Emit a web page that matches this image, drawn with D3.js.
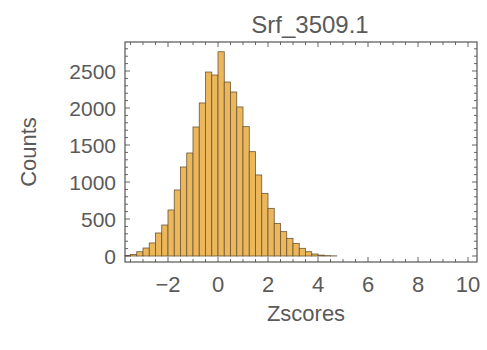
<!DOCTYPE html>
<html>
<head>
<meta charset="utf-8">
<script src="https://cdn.jsdelivr.net/npm/d3@7"></script>
<style>
  html, body { margin: 0; padding: 0; background: #fff; }
  svg { display: block; }
  text { font-family: "Liberation Sans", Arial, sans-serif; fill: #5a5a5a; }
</style>
</head>
<body>
<svg id="chart" width="487" height="350"></svg>
<script>
// ---- data ----
const title = "Srf_3509.1";
const xLabel = "Zscores";
const yLabel = "Counts";
const binWidth = 0.25;
const binStarts = [-3.75, -3.5, -3.25, -3.0, -2.75, -2.5, -2.25, -2.0, -1.75, -1.5, -1.25, -1.0, -0.75, -0.5,
  -0.25, 0.0, 0.25, 0.5, 0.75, 1.0, 1.25, 1.5, 1.75, 2.0, 2.25, 2.5, 2.75, 3.0, 3.25, 3.5, 3.75, 4.0, 4.25, 4.5];
const counts = [8, 22, 58, 108, 176, 311, 419, 622, 892, 1203, 1392, 1743, 2068, 2486,
  2446, 2760, 2351, 2216, 2014, 1748, 1410, 1095, 847, 644, 441, 329, 239, 171, 104, 58, 27, 12, 5, 2];
const xTicks = [-2, 0, 2, 4, 6, 8, 10];
const yTicks = [0, 500, 1000, 1500, 2000, 2500];

// ---- layout ----
const svg = d3.select("#chart");
const L = 125, R = 477, T = 42, B = 262;
const x = d3.scaleLinear().domain([-3.72, 10.36]).range([L, R]);
const y = d3.scaleLinear().domain([-81, 2892]).range([B, T]);

const bins = binStarts.map((s, i) => ({ x0: s, x1: s + binWidth, v: counts[i] }))
  .filter(d => d.x1 > x.domain()[0]);

svg.append("g").selectAll("rect").data(bins).join("rect")
  .attr("x", d => x(Math.max(d.x0, x.domain()[0])))
  .attr("width", d => x(d.x1) - x(Math.max(d.x0, x.domain()[0])))
  .attr("y", d => y(d.v))
  .attr("height", d => y(0) - y(d.v))
  .attr("fill", "#ecb75a")
  .attr("stroke", "#6a5638")
  .attr("stroke-width", 0.8);

// frame
const frameColor = "#555";
svg.append("rect").attr("x", L).attr("y", T).attr("width", R - L).attr("height", B - T)
  .attr("fill", "none").attr("stroke", frameColor).attr("stroke-width", 1.2);

// ticks (inward, all sides)
const xMinor = d3.range(-3.5, 10.01, 0.5).filter(v => !xTicks.includes(v));
const yMinor = d3.range(0, 2801, 100).filter(v => !yTicks.includes(v));
const tg = svg.append("g").attr("stroke", frameColor).attr("stroke-width", 0.9);
xTicks.forEach(v => {
  tg.append("line").attr("x1", x(v)).attr("x2", x(v)).attr("y1", B).attr("y2", B - 5);
  tg.append("line").attr("x1", x(v)).attr("x2", x(v)).attr("y1", T).attr("y2", T + 5);
});
xMinor.forEach(v => {
  tg.append("line").attr("x1", x(v)).attr("x2", x(v)).attr("y1", B).attr("y2", B - 3);
  tg.append("line").attr("x1", x(v)).attr("x2", x(v)).attr("y1", T).attr("y2", T + 3);
});
yTicks.forEach(v => {
  tg.append("line").attr("x1", L).attr("x2", L + 5).attr("y1", y(v)).attr("y2", y(v));
  tg.append("line").attr("x1", R).attr("x2", R - 5).attr("y1", y(v)).attr("y2", y(v));
});
yMinor.forEach(v => {
  tg.append("line").attr("x1", L).attr("x2", L + 3).attr("y1", y(v)).attr("y2", y(v));
  tg.append("line").attr("x1", R).attr("x2", R - 3).attr("y1", y(v)).attr("y2", y(v));
});

// tick labels
svg.append("g").selectAll("text").data(xTicks).join("text")
  .attr("x", d => x(d)).attr("y", 292)
  .attr("text-anchor", "middle").attr("font-size", 22)
  .text(d => d < 0 ? "\u2212" + Math.abs(d) : d);
svg.append("g").selectAll("text").data(yTicks).join("text")
  .attr("x", 116).attr("y", d => y(d)).attr("dy", "0.36em")
  .attr("text-anchor", "end").attr("font-size", 21)
  .text(d => d);

// titles
svg.append("text").attr("x", 310).attr("y", 33).attr("text-anchor", "middle")
  .attr("font-size", 24).text(title);
svg.append("text").attr("x", 306).attr("y", 321).attr("text-anchor", "middle")
  .attr("font-size", 22).text(xLabel);
svg.append("text").attr("transform", "translate(36,152) rotate(-90)")
  .attr("text-anchor", "middle").attr("font-size", 22).text(yLabel);
</script>
</body>
</html>
